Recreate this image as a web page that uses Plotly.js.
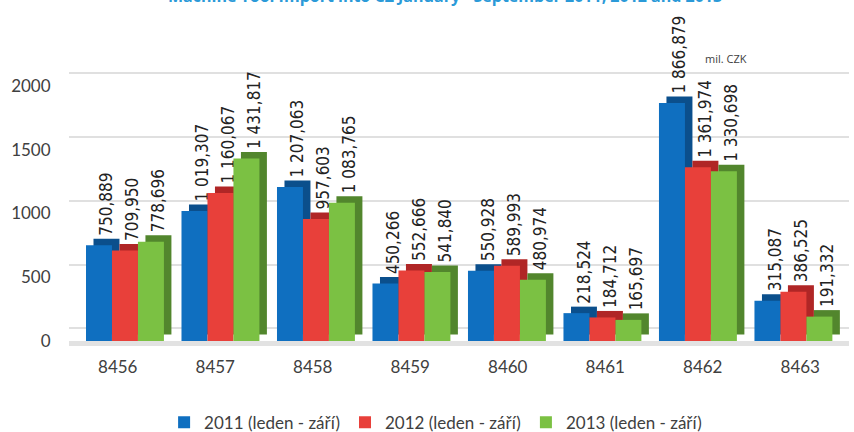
<!DOCTYPE html>
<html>
<head>
<meta charset="utf-8">
<script src="https://cdn.plot.ly/plotly-3.0.1.min.js"></script>
<style>html,body{margin:0;padding:0;background:#fff;}#chart{width:854px;height:432px;}</style>
</head>
<body>
<div id="chart"></div>
<script>
const categories = ['8456','8457','8458','8459','8460','8461','8462','8463'];
const values2011 = [750.889,1019.307,1207.063,450.266,550.928,218.524,1866.879,315.087];
const values2012 = [709.950,1160.067,957.603,552.666,589.993,184.712,1361.974,386.525];
const values2013 = [778.696,1431.817,1083.765,541.840,480.974,165.697,1330.698,191.332];
const seriesNames = ['2011 (leden - září)','2012 (leden - září)','2013 (leden - září)'];
const yTickValues = [0,500,1000,1500,2000];
const titleText = 'Machine Tool Import into CZ January - September 2011, 2012 and 2013';
const unitText = 'mil. CZK';

function fmt(v){
  const s = v.toFixed(3).split('.');
  const i = s[0].replace(/\B(?=(\d{3})+(?!\d))/g,' ');
  return i + ',' + s[1];
}

const series = [values2011, values2012, values2013];
const frontColors = ['#0f6fc0','#e8403a','#7bc143'];
const sideColors  = ['#0b4f8c','#b02626','#52862d'];
const W = 0.272, DX = 0.0785, DY = 51;
const offsets = [-0.403, -0.131, 0.141];

const traces = [];
// carrier trace for the base (grid / category label) subplot; draws nothing
traces.push({
  type:'scatter', mode:'none', x: categories.map((c,i)=>i), y: values2011,
  xaxis:'x', yaxis:'y', showlegend:false, hoverinfo:'skip'
});
series.forEach((vals, k) => {
  traces.push({
    type:'bar', x: categories, y: vals, base: DY,
    xaxis:'x2', yaxis:'y2',
    offset: offsets[k] + DX, width: W,
    marker:{color: sideColors[k], line:{width:0}},
    showlegend:false, hoverinfo:'skip',
    text: vals.map(fmt), textposition:'outside', textangle:-90,
    textfont:{family:'DejaVu Sans Condensed, DejaVu Sans', size:17, color:'#222'},
    cliponaxis:false, constraintext:'none'
  });
  traces.push({
    type:'bar', x: categories, y: vals,
    xaxis:'x2', yaxis:'y2',
    offset: offsets[k], width: W,
    marker:{color: frontColors[k], line:{width:0}},
    name: seriesNames[k], showlegend:true, hoverinfo:'skip',
    cliponaxis:false
  });
});

const layout = {
  width:854, height:432,
  margin:{l:69, r:5, t:40, b:91, autoexpand:false},
  paper_bgcolor:'#fff', plot_bgcolor:'#fff',
  barmode:'overlay',
  showlegend:true,
  font:{family:'Lato, Open Sans, sans-serif', color:'#404040'},
  xaxis:{
    type:'linear', range:[-0.5, 7.5],
    tickmode:'array', tickvals: categories.map((c,i)=>i), ticktext: categories,
    ticks:'outside', ticklen:7, tickcolor:'rgba(0,0,0,0)',
    tickfont:{family:'Lato, sans-serif', size:17, color:'#404040'},
    showgrid:false, zeroline:false,
    showline:true, linecolor:'#e2e2e2', linewidth:5, layer:'below traces',
    fixedrange:true
  },
  yaxis:{
    range:[-100, 2261], showticklabels:false, ticks:'',
    showgrid:true, gridcolor:'#e0e0e0', gridwidth:2,
    tickmode:'array', tickvals: yTickValues,
    zeroline:false, showline:false
  },
  xaxis2:{
    type:'category', categoryarray: categories, categoryorder:'array',
    overlaying:'x', range:[-0.581, 7.587],
    showticklabels:false, showgrid:false, zeroline:false, showline:false, ticks:''
  },
  yaxis2:{
    overlaying:'y', side:'left', range:[0, 2361],
    tickmode:'array', tickvals: yTickValues,
    ticks:'outside', ticklen:14, tickcolor:'rgba(0,0,0,0)',
    tickfont:{family:'Lato, sans-serif', size:17, color:'#404040'},
    showgrid:false, zeroline:false, showline:false
  },
  legend:{
    orientation:'h', x:0.47, xanchor:'center', y:-0.212, yanchor:'top',
    font:{family:'Lato, sans-serif', size:17, color:'#404040'},
    itemclick:false, itemdoubleclick:false
  },
  annotations:[
    {text: titleText, xref:'paper', yref:'paper', x:0.482, y:1.1478,
     xanchor:'center', yanchor:'middle', showarrow:false,
     font:{family:'Open Sans, sans-serif', size:16, color:'#2b9ad8', weight:'bold'}},
    {text: unitText, xref:'paper', yref:'paper', x:0.842, y:0.94,
     xanchor:'center', yanchor:'middle', showarrow:false,
     font:{family:'Open Sans, sans-serif', size:11, color:'#404040'}}
  ]
};

Plotly.newPlot('chart', traces, layout, {displayModeBar:false, staticPlot:true});
</script>
</body>
</html>
